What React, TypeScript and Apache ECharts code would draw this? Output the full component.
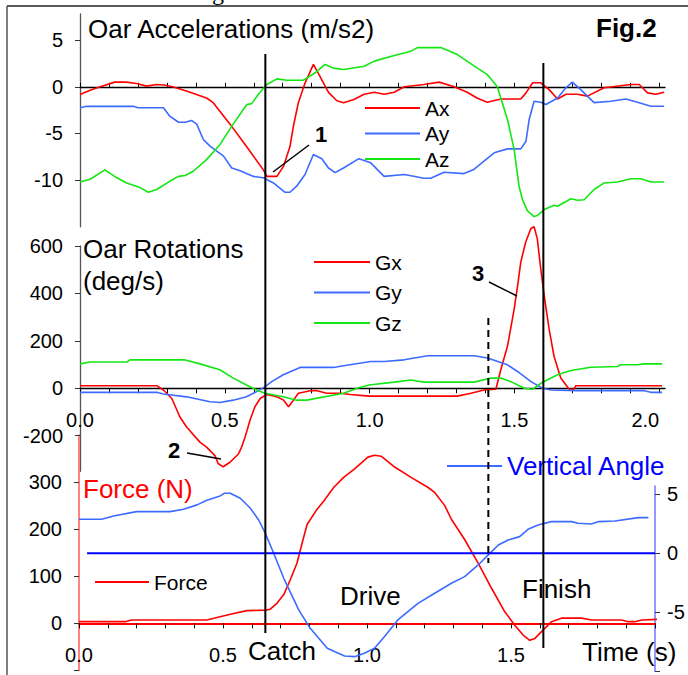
import React, { useEffect, useRef } from 'react';
import * as echarts from 'echarts';

const FONT = '"Liberation Sans", Arial, sans-serif';

// ---- tick values / labels ----
const timeTicks = [0, 0.1, 0.2, 0.3, 0.4, 0.5, 0.6, 0.7, 0.8, 0.9, 1.0, 1.1, 1.2, 1.3, 1.4, 1.5, 1.6, 1.7, 1.8, 1.9, 2.0];
const timeLabels = [0, 0.5, 1.0, 1.5, 2.0];
const forceTimeLabels = [0, 0.5, 1.0, 1.5];
const accelTicks = [-10, -5, 0, 5];
const rotTicks = [-200, 0, 200, 400, 600];
const forceTicks = [-100, 0, 100, 200, 300];
const forceLabels = [0, 100, 200, 300];
const angleTicks = [-10, -5, 0, 5];
const angleLabels = [-5, 0, 5];

// ---- event times (s) ----
const catchTime = 0.64;
const dashedTime = 1.41;
const finishTime = 1.6;

// ---- Oar accelerations (m/s2) : [time, value] ----
const ax = [[0,-0.83],[0.035,-0.36],[0.07,0],[0.12,0.5],[0.16,0.5],[0.195,0.35],[0.23,0.07],[0.265,0.25],[0.29,0.2],[0.32,0],[0.37,-0.47],[0.437,-1.2],[0.46,-1.7],[0.518,-4.0],[0.575,-6.4],[0.633,-8.9],[0.645,-9.6],[0.68,-9.6],[0.703,-8.5],[0.725,-6.4],[0.737,-4.2],[0.754,-1.7],[0.777,0.4],[0.806,2.4],[0.829,1.1],[0.858,-0.6],[0.887,-1.5],[0.91,-1.7],[0.946,-1.36],[0.981,-0.8],[1.016,-0.58],[1.05,-0.8],[1.085,-0.58],[1.12,0],[1.188,0.25],[1.24,0.5],[1.292,0],[1.337,-0.58],[1.371,-1.2],[1.406,-1.65],[1.453,-1.3],[1.522,-1.3],[1.54,-0.65],[1.563,0.43],[1.591,0.43],[1.62,-0.3],[1.649,-1.3],[1.678,-0.8],[1.718,-0.8],[1.752,-1.0],[1.81,-0.1],[1.902,0.25],[1.931,0.25],[1.96,-0.65],[1.988,-0.8],[2.017,-0.58]];
const ay = [[0,-2.25],[0.023,-2.08],[0.07,-2.1],[0.184,-2.08],[0.2,-2.25],[0.288,-2.25],[0.31,-3.15],[0.34,-3.8],[0.363,-3.8],[0.385,-3.6],[0.403,-4.0],[0.426,-5.65],[0.449,-6.35],[0.472,-6.9],[0.495,-7.4],[0.524,-8.7],[0.553,-9.0],[0.599,-9.6],[0.633,-9.75],[0.668,-10.3],[0.708,-11.3],[0.725,-11.3],[0.748,-10.65],[0.777,-9.4],[0.806,-7.25],[0.835,-7.7],[0.858,-8.7],[0.881,-9.2],[0.91,-8.7],[0.963,-7.7],[1.004,-8.15],[1.05,-9.6],[1.12,-9.4],[1.188,-9.8],[1.211,-9.8],[1.257,-9.15],[1.326,-9.3],[1.36,-8.85],[1.395,-7.97],[1.43,-7.07],[1.476,-6.65],[1.522,-6.65],[1.54,-5.83],[1.551,-3.5],[1.568,-1.54],[1.591,-1.65],[1.609,-1.9],[1.649,-1.2],[1.678,-0.1],[1.7,0.5],[1.729,-0.3],[1.775,-1.7],[1.833,-1.55],[1.885,-1.3],[1.925,-1.65],[1.971,-2.08],[2.017,-2.08]];
const az = [[0,-10.2],[0.035,-9.9],[0.086,-8.9],[0.127,-9.75],[0.161,-10.3],[0.207,-10.8],[0.236,-11.3],[0.265,-11.0],[0.311,-10.1],[0.34,-9.6],[0.363,-9.5],[0.391,-9.05],[0.437,-7.8],[0.483,-6.2],[0.529,-4.0],[0.576,-1.9],[0.593,-1.8],[0.616,-0.8],[0.645,0.25],[0.68,0.85],[0.714,0.7],[0.771,0.7],[0.812,1.5],[0.846,2.4],[0.875,2.0],[0.91,1.85],[0.981,2.2],[1.016,2.75],[1.085,3.35],[1.142,3.8],[1.165,4.2],[1.246,4.2],[1.303,3.45],[1.372,2.0],[1.407,1.3],[1.441,0],[1.476,-3.5],[1.499,-6.7],[1.516,-10.65],[1.528,-12.1],[1.545,-13.3],[1.568,-13.9],[1.579,-13.8],[1.603,-13.15],[1.637,-12.7],[1.649,-12.8],[1.672,-12.4],[1.695,-12.0],[1.718,-12.15],[1.741,-12.1],[1.775,-11.0],[1.81,-10.3],[1.856,-10.2],[1.902,-9.85],[1.937,-9.85],[1.971,-10.2],[2.017,-10.2]];

// ---- Oar rotations (deg/s) ----
const gx = [[0,11],[0.265,11],[0.288,-7],[0.317,-43],[0.345,-121],[0.368,-163],[0.414,-227],[0.437,-248],[0.466,-284],[0.477,-317],[0.494,-331],[0.518,-312],[0.547,-277],[0.558,-248],[0.57,-206],[0.587,-135],[0.604,-78],[0.622,-43],[0.645,-26],[0.68,-36],[0.703,-50],[0.72,-78],[0.737,-50],[0.754,-21],[0.795,-10],[0.818,-10],[0.852,-21],[0.9,-21],[0.933,-26],[0.998,-33],[1.303,-33],[1.35,-21],[1.395,-7],[1.436,-4],[1.453,78],[1.476,177],[1.499,333],[1.511,432],[1.522,532],[1.539,617],[1.557,674],[1.568,681],[1.579,631],[1.591,503],[1.603,390],[1.62,248],[1.637,134],[1.66,43],[1.689,-4],[1.706,-4],[1.712,11],[2.01,11]];
const gy = [[0,-17],[0.265,-17],[0.288,-24],[0.368,-36],[0.449,-57],[0.483,-60],[0.529,-50],[0.575,-36],[0.61,-14],[0.639,7],[0.662,28],[0.702,57],[0.76,88],[0.875,88],[0.91,95],[1.004,113],[1.05,113],[1.119,120],[1.2,137],[1.361,137],[1.407,128],[1.476,99],[1.511,71],[1.557,28],[1.597,0],[1.626,-7],[1.718,-10],[1.948,-10],[1.971,-17],[2.01,-17]];
const gz = [[0,103],[0.035,111],[0.162,111],[0.173,120],[0.36,120],[0.414,103],[0.483,78],[0.529,43],[0.575,14],[0.616,-10],[0.639,-21],[0.702,-36],[0.748,-50],[0.783,-50],[0.91,-21],[0.957,0],[0.998,14],[1.084,26],[1.142,35],[1.188,26],[1.361,26],[1.419,43],[1.453,43],[1.488,28],[1.534,0],[1.563,-4],[1.591,21],[1.649,57],[1.695,75],[1.764,89],[1.856,92],[1.867,99],[1.925,99],[1.948,103],[2.01,103]];

// ---- Force (N) and vertical angle (deg) ----
const force = [[0,3.5],[0.16,3.5],[0.183,7],[0.444,7],[0.49,14],[0.537,21],[0.583,27],[0.647,28],[0.664,30],[0.688,43],[0.711,61],[0.734,93],[0.757,128],[0.775,171],[0.792,210],[0.826,242],[0.85,260],[0.885,289],[0.919,310],[0.957,328],[1.003,353],[1.026,357],[1.049,355],[1.096,332],[1.153,310],[1.211,289],[1.235,278],[1.27,250],[1.293,221],[1.339,178],[1.386,128],[1.432,75],[1.478,25],[1.513,-4],[1.542,-25],[1.565,-36],[1.583,-32],[1.612,-14],[1.641,3.5],[1.675,11],[1.745,11],[1.78,7],[1.884,7],[1.907,3.5],[1.93,3.5],[1.954,7],[2.01,8.5]];
const vAngle = [[0,2.88],[0.079,2.88],[0.12,3.16],[0.2,3.53],[0.316,3.53],[0.363,3.73],[0.41,4.1],[0.444,4.5],[0.49,4.86],[0.504,5.08],[0.525,5.08],[0.56,4.66],[0.595,3.81],[0.624,2.82],[0.647,1.69],[0.676,0],[0.711,-2.12],[0.763,-4.8],[0.803,-6.36],[0.862,-8.05],[0.922,-8.7],[0.957,-8.76],[0.991,-8.47],[1.026,-8.05],[1.061,-7.06],[1.107,-5.65],[1.177,-4.24],[1.235,-3.39],[1.293,-2.54],[1.339,-1.98],[1.386,-0.99],[1.421,-0.14],[1.456,0.7],[1.49,1.13],[1.53,1.41],[1.559,2.03],[1.594,2.4],[1.64,2.68],[1.71,2.68],[1.733,2.54],[1.779,2.48],[1.803,2.68],[1.861,2.74],[1.942,3.02],[1.977,3.02]];
const angleZero = [[0.028,0],[2.0,0]];

const RED = '#ff0000';
const BLUE = '#3d6bff';
const GREEN = '#14e614';

function lineSeries(name: string, data: number[][], color: string, idx: number, width = 1.6) {
  return {
    name, type: 'line', data, xAxisIndex: idx, yAxisIndex: idx,
    symbol: 'none', showSymbol: false, clip: false, color,
    lineStyle: { color, width }, emphasis: { disabled: true }, silent: true,
  };
}

function xAx(grid: number, max: number, opts: any) {
  return {
    type: 'value', gridIndex: grid, min: 0, max,
    splitLine: { show: false },
    axisLine: { show: true, onZero: true, lineStyle: { color: opts.lineColor || '#000', width: opts.lineWidth || 1.3 } },
    axisTick: { show: true, inside: !!opts.inside, length: opts.inside ? 4 : 5, customValues: timeTicks, lineStyle: { color: '#000', width: 1 } },
    axisLabel: { show: false },
  };
}

// label-only x axis placed on an auxiliary grid whose bottom edge is the zero line
function xLabelAx(grid: number, max: number, labels: number[], alignLast?: string) {
  return {
    type: 'value', gridIndex: grid, min: 0, max,
    splitLine: { show: false },
    axisLine: { show: false, onZero: false },
    axisTick: { show: false },
    axisLabel: {
      show: true, customValues: labels, margin: 22, fontSize: 20, color: '#000', fontFamily: FONT,
      alignMaxLabel: alignLast,
      formatter: (v: number) => v.toFixed(1),
    },
  };
}

function yAx(grid: number, min: number, max: number, ticks: number[], labels: number[], opts: any) {
  return {
    type: 'value', gridIndex: grid, min, max, position: opts.position || 'left',
    splitLine: { show: false },
    axisLine: { show: true, onZero: false, lineStyle: { color: opts.lineColor || '#555', width: opts.lineWidth || 1.3 } },
    axisTick: { show: true, length: 5, customValues: ticks, lineStyle: { color: '#333', width: 1 } },
    axisLabel: { customValues: labels, margin: opts.margin || 17, fontSize: 20, color: '#000', fontFamily: FONT },
  };
}

function legend(names: string[], left: number, top: number, gap: number, width: number, font = 21, color = '#000') {
  return {
    data: names, left, top, orient: 'vertical', itemWidth: width, itemHeight: 14, itemGap: gap,
    selectedMode: false, padding: 0,
    itemStyle: { opacity: 0 },
    textStyle: { fontSize: font, lineHeight: font, color, fontFamily: FONT },
  };
}

function txt(text: string, x: number, y: number, size = 26, color = '#000', weight = 'normal', family = FONT) {
  return {
    type: 'text', x, y, z: 20, silent: true,
    style: {
      text, fill: color, fontSize: size, fontWeight: weight, fontFamily: family,
      textAlign: 'left', textVerticalAlign: 'middle', align: 'left', verticalAlign: 'middle',
    },
  };
}

function seg(x1: number, y1: number, x2: number, y2: number, w = 1.5, dash?: number[], color = '#000') {
  return {
    type: 'line', z: 15, silent: true,
    shape: { x1, y1, x2, y2 },
    style: { stroke: color, lineWidth: w, lineDash: dash },
  };
}

const G = (left: number, top: number, width: number, height: number) =>
  ({ left, top, width, height, containLabel: false, outerBoundsMode: 'none' });

export default function App() {
  const ref = useRef<HTMLDivElement>(null);
  useEffect(() => {
    if (!ref.current) return;
    const chart = echarts.init(ref.current, undefined, { renderer: 'svg' });
    chart.setOption({
      animation: false,
      backgroundColor: '#fff',
      textStyle: { fontFamily: FONT },
      grid: [
        G(80, 14, 585, 212.8),    // accelerations
        G(80, 246, 585, 225.3),   // rotations
        G(79, 435, 576, 235.4),   // force
        G(79, 486, 576, 185.3),   // vertical angle
        G(80, 246, 585, 142.3),   // labels for rotations time axis
        G(79, 435, 576, 188.3),   // labels for force time axis
      ],
      xAxis: [
        xAx(0, 2.02, { inside: true }),
        xAx(1, 2.02, {}),
        xAx(2, 2.0, { lineColor: RED, lineWidth: 2 }),
        { type: 'value', gridIndex: 3, min: 0, max: 2.0, show: false },
        xLabelAx(4, 2.02, timeLabels, 'right'),
        xLabelAx(5, 2.0, forceTimeLabels),
      ],
      yAxis: [
        yAx(0, -15, 7.8, accelTicks, accelTicks, {}),
        yAx(1, -350, 600, rotTicks, rotTicks, {}),
        yAx(2, -100, 400, forceTicks, forceLabels, { lineColor: '#ff5a5a', lineWidth: 1.5 }),
        yAx(3, -10, 5.7, angleTicks, angleLabels, { position: 'right', lineColor: '#7474ff', lineWidth: 1.5, margin: 12 }),
        { type: 'value', gridIndex: 4, min: 0, max: 1, show: false },
        { type: 'value', gridIndex: 5, min: 0, max: 1, show: false },
      ],
      legend: [
        legend(['Ax', 'Ay', 'Az'], 364, 97.5, 4.5, 55),
        legend(['Gx', 'Gy', 'Gz'], 313, 251.5, 9.5, 56),
        legend(['Force'], 94, 571.5, 5, 54),
        legend(['Vertical Angle'], 446, 453, 5, 55, 26, '#0000ff'),
      ],
      series: [
        lineSeries('Ax', ax, RED, 0),
        lineSeries('Ay', ay, BLUE, 0),
        lineSeries('Az', az, GREEN, 0),
        lineSeries('Gx', gx, RED, 1),
        lineSeries('Gy', gy, BLUE, 1),
        lineSeries('Gz', gz, GREEN, 1),
        lineSeries('Force', force, RED, 2),
        lineSeries('Vertical Angle', vAngle, BLUE, 3),
        lineSeries('Zero', angleZero, '#0000ff', 3, 2),
      ],
    });

    const px = (t: number) => chart.convertToPixel({ xAxisIndex: 1 }, t) as number;
    const cx = px(catchTime);
    const fx = px(finishTime);
    const dx = px(dashedTime);

    chart.setOption({
      graphic: [
        seg(7, 6, 690, 6, 1.5, undefined, '#222'),
        seg(7, 6, 7, 680, 1.5, undefined, '#555'),
        {
          type: 'text', x: 212, y: 4, z: 20, silent: true,
          style: { text: 'g', fill: '#000', fontSize: 24, fontFamily: '"Liberation Serif", serif', textVerticalAlign: 'bottom', verticalAlign: 'bottom' },
        },
        seg(cx, 54, cx, 633, 2),
        seg(fx, 63, fx, 648, 2),
        seg(dx, 318, dx, 563, 2, [7, 5]),
        seg(273, 172, 309, 145, 1.5),
        seg(489, 282, 517, 296, 1.5),
        seg(187, 453, 221, 459, 1.5),
        txt('Oar Accelerations (m/s2)', 88, 29),
        txt('Fig.2', 596, 28, 26, '#000', 'bold'),
        txt('1', 315, 134.5, 22, '#000', 'bold'),
        txt('Oar Rotations', 83, 249),
        txt('(deg/s)', 83, 281),
        txt('3', 472, 273.5, 22, '#000', 'bold'),
        txt('2', 168, 450.5, 22, '#000', 'bold'),
        txt('Force (N)', 83, 489, 26, RED),
        txt('Catch', 248, 651),
        txt('Drive', 340, 596),
        txt('Finish', 522, 589),
        txt('Time (s)', 582, 651.5),
      ],
    });

    return () => chart.dispose();
  }, []);
  return (
    <div
      ref={ref}
      style={{ position: 'fixed', left: 0, top: 0, width: 688, height: 675, background: '#fff' }}
    />
  );
}
